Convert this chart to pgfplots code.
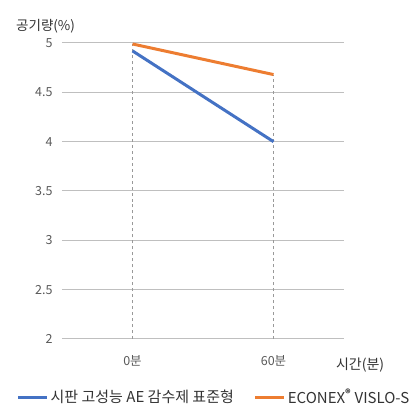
\documentclass[border=0pt]{standalone}
\usepackage{fontspec}
\setmainfont{Noto Sans CJK KR}
\usepackage{pgfplots}
\pgfplotsset{compat=1.18}
\definecolor{seriesA}{HTML}{4472C4}
\definecolor{seriesB}{HTML}{ED7D31}
\definecolor{gridc}{HTML}{BFBFBF}
\definecolor{txt}{HTML}{595959}
\begin{document}
\begin{tikzpicture}
\begin{axis}[
  scale only axis,
  width=282bp, height=296bp,
  at={(0,0)}, anchor=south west,
  xmin=-0.5, xmax=1.5,
  ymin=2, ymax=5,
  ytick={2,2.5,3,3.5,4,4.5,5},
  yticklabels={2,2.5,3,3.5,4,4.5,5},
  xtick={0,1},
  xticklabels={0분,60분},
  axis line style={draw=none},
  major tick length=0pt,
  ymajorgrids,
  grid style={gridc, line width=1bp},
  tick label style={font=\fontsize{12.5bp}{14bp}\selectfont, text=txt},
  yticklabel style={xshift=-6bp},
  xticklabel style={yshift=-13bp},
  clip=false,
  legend columns=2,
  legend style={draw=none, fill=none, at={(axis description cs:0.539,-0.196)}, anchor=center,
    font=\fontsize{15bp}{17bp}\selectfont, text=black!80,
    /tikz/every even column/.append style={column sep=18bp}},
  legend image code/.code={\draw[#1, line width=3bp] (0bp,0bp) -- (29bp,0bp);},
]
% drop lines from each category's highest value
\addplot[gridc!80!black, dashed, line width=0.8bp, forget plot] coordinates {(0,2) (0,4.99)};
\addplot[gridc!80!black, dashed, line width=0.8bp, forget plot] coordinates {(1,2) (1,4.68)};
\addplot[seriesA, line width=3bp] coordinates {(0,4.92) (1,4.00)};
\addlegendentry{시판 고성능 AE 감수제 표준형}
\addplot[seriesB, line width=3bp] coordinates {(0,4.99) (1,4.68)};
\addlegendentry{ECONEX\textsuperscript{\textbf{®}} VISLO-S}
\node[anchor=west, font=\fontsize{13.5bp}{15bp}\selectfont, text=black!80] at (axis description cs:-0.175,1.057) {공기량(\%)};
\node[font=\fontsize{14bp}{16bp}\selectfont, text=black!80] at (axis description cs:1.057,-0.088) {시간(분)};
\end{axis}
\path[use as bounding box] (-62bp,-69bp) rectangle (355bp,339bp);
\end{tikzpicture}
\end{document}
